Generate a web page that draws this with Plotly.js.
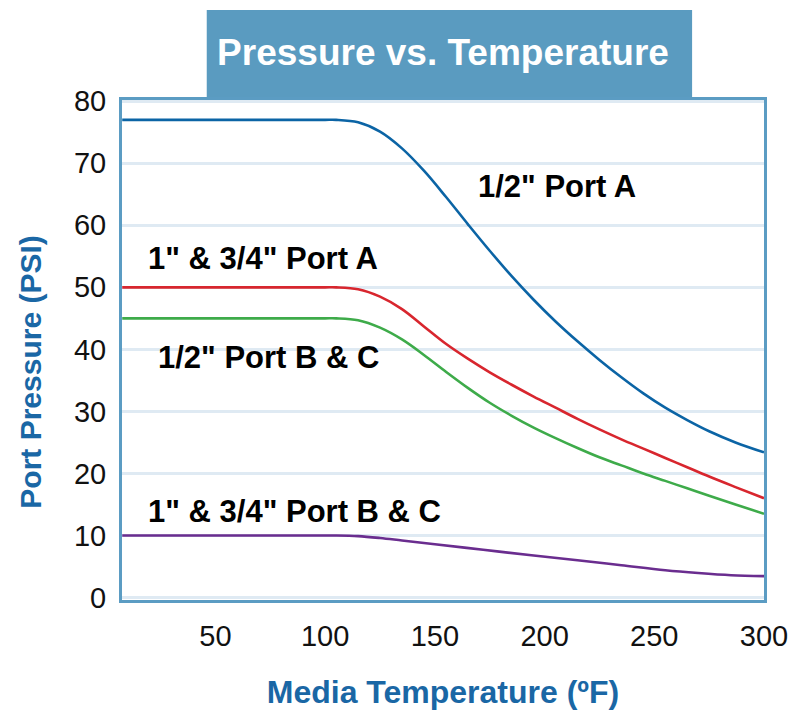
<!DOCTYPE html>
<html>
<head>
<meta charset="utf-8">
<script src="https://cdn.plot.ly/plotly-3.0.1.min.js"></script>
<style>html,body{margin:0;padding:0;background:#fff;}#chart{width:812px;height:712px;}</style>
</head>
<body>
<div id="chart"></div>
<script>
// Data
const seriesNames = ['1/2" Port A', '1" & 3/4" Port A', '1/2" Port B & C', '1" & 3/4" Port B & C'];

const temps = [7.5, 50, 90, 100, 105, 115, 125, 135, 145, 155, 165, 175, 185, 195, 205, 215, 225, 235, 245, 255, 265, 275, 287, 300];
const psiA12  = [77, 77, 77, 77, 77, 76.6, 75.1, 72.4, 68.8, 64.6, 60.2, 55.9, 51.8, 48.0, 44.5, 41.3, 38.3, 35.5, 32.9, 30.6, 28.6, 26.8, 25.0, 23.4];
const psiA34  = [50, 50, 50, 50, 50, 49.7, 48.5, 46.5, 43.7, 40.9, 38.5, 36.3, 34.3, 32.4, 30.6, 28.8, 27.1, 25.5, 24.0, 22.5, 21.0, 19.5, 17.8, 16.0];
const psiBC12 = [45, 45, 45, 45, 45, 44.7, 43.5, 41.6, 39.1, 36.4, 33.8, 31.4, 29.3, 27.4, 25.7, 24.1, 22.6, 21.3, 20.0, 18.8, 17.6, 16.4, 15.0, 13.5];

const tempBC34 = [7.5, 50, 90, 100, 105, 115, 125, 135, 150, 172, 194, 215, 235, 255, 270, 285, 300];
const psiBC34  = [10, 10, 10, 10, 10, 9.9, 9.6, 9.2, 8.6, 7.7, 6.8, 6.0, 5.2, 4.4, 3.95, 3.6, 3.45];

const xTicks = [50, 100, 150, 200, 250, 300];
const yTicks = [0, 10, 20, 30, 40, 50, 60, 70, 80];

const colors = ['#0b64a5', '#d8262e', '#3eab4a', '#6a2d8f'];
const xs = [temps, temps, temps, tempBC34];
const ys = [psiA12, psiA34, psiBC12, psiBC34];

const FONT = 'Liberation Sans, Arial, sans-serif';

const traces = xs.map((x, i) => ({
  x: x, y: ys[i], type: 'scatter', mode: 'lines', name: seriesNames[i],
  line: {color: colors[i], width: 2.6, shape: 'spline', smoothing: 1},
  hoverinfo: 'x+y+name'
}));

const labelPos = [
  {x: 205.5, y: 66.3},
  {x: 71.6, y: 54.6},
  {x: 74, y: 38.7},
  {x: 86, y: 13.8}
];
const annotations = seriesNames.map((n, i) => ({
  x: labelPos[i].x, y: labelPos[i].y, xref: 'x', yref: 'y', text: '<b>' + n + '</b>', showarrow: false,
  font: {family: FONT, size: 31, color: '#000'},
  xanchor: 'center', yanchor: 'middle'
}));
annotations.push({
  text: '<b>Port Pressure (PSI)</b>', textangle: -90, showarrow: false,
  xref: 'paper', yref: 'paper', x: -0.143, y: 0.455, xanchor: 'center', yanchor: 'middle',
  font: {family: FONT, size: 30, color: '#1a67a5'}
});

const layout = {
  width: 812, height: 712,
  margin: {l: 122, r: 48, t: 100, b: 112},
  paper_bgcolor: '#fff', plot_bgcolor: '#fff',
  showlegend: false,
  title: {
    text: '<b>Pressure vs. Temperature</b>',
    font: {family: FONT, size: 37, color: '#fff'},
    x: 0.5, xref: 'paper', y: 0.927, yref: 'container', yanchor: 'middle'
  },
  shapes: [{
    type: 'rect', xref: 'paper', yref: 'paper', x0: 0.132, x1: 0.888, y0: 1.0, y1: 1.18,
    fillcolor: '#5a9bc0', line: {width: 0}, layer: 'below'
  }],
  xaxis: {
    range: [7.4, 300], tickvals: xTicks, ticktext: xTicks.map(String),
    showgrid: false, zeroline: false,
    showline: true, mirror: true, linecolor: '#5b9cc3', linewidth: 3,
    ticks: '', ticklabelstandoff: 8,
    tickfont: {family: FONT, size: 29, color: '#111'},
    title: {text: '<b>Media Temperature (ºF)</b>', standoff: 30,
      font: {family: FONT, size: 32, color: '#1a67a5'}}
  },
  yaxis: {
    range: [-0.4, 80.2], tickvals: yTicks, ticktext: yTicks.map(String),
    showgrid: true, gridcolor: '#dfeaf3', gridwidth: 3, zeroline: false,
    showline: true, mirror: true, linecolor: '#5b9cc3', linewidth: 3,
    ticks: '', ticklabelstandoff: 7,
    tickfont: {family: FONT, size: 29, color: '#111'}
  },
  annotations: annotations
};

Plotly.newPlot('chart', traces, layout, {displayModeBar: false, staticPlot: true});
</script>
</body>
</html>
